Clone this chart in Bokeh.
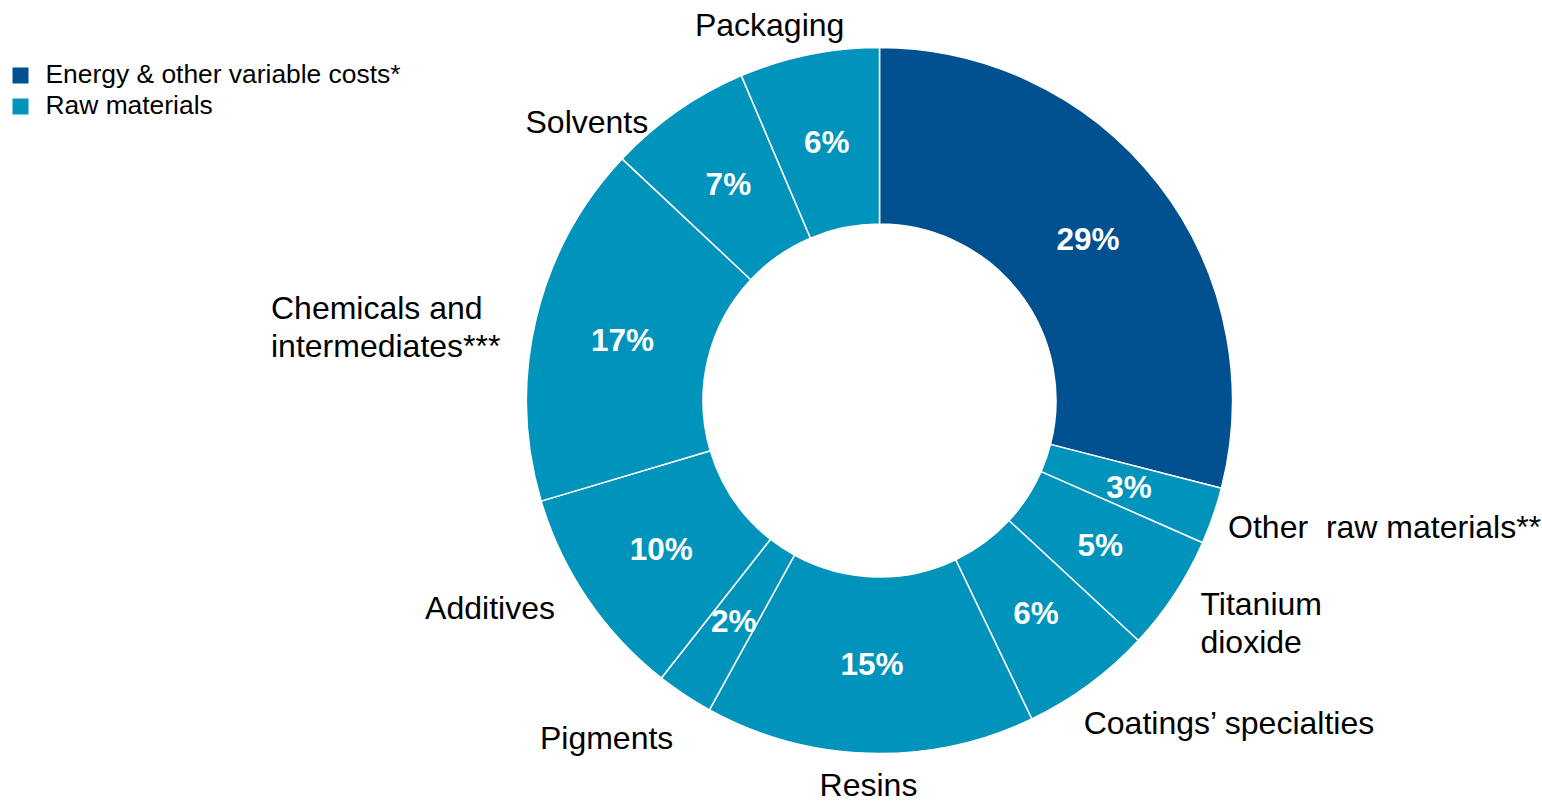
import math
from bokeh.plotting import figure
from bokeh.models import Range1d, ColumnDataSource, Legend, LegendItem
from bokeh.core.properties import value
from bokeh.embed import file_html
from bokeh.resources import INLINE

# ---- data ----
categories = ["Energy & other variable costs*", "Other\u00a0 raw materials**", "Titanium\ndioxide",
              "Coatings\u2019 specialties", "Resins", "Pigments", "Additives",
              "Chemicals and\nintermediates***", "Solvents", "Packaging"]
shares = [29.0, 2.6, 5.3, 6.0, 15.1, 2.6, 9.8, 16.6, 6.6, 6.4]
pct_labels = ["29%", "3%", "5%", "6%", "15%", "2%", "10%", "17%", "7%", "6%"]
groups = ["Energy & other variable costs*", "Raw materials", "Raw materials", "Raw materials",
          "Raw materials", "Raw materials", "Raw materials", "Raw materials",
          "Raw materials", "Raw materials"]
legend_labels = ["Energy & other variable costs*", "Raw materials"]

# ---- styles ----
group_colors = {"Energy & other variable costs*": "#01508f", "Raw materials": "#0093bb"}
R_OUT, R_IN = 353, 176.5
R_PCT, R_LAB = 264, 390
# per-label: (text_align, dx, dy) ; first slice has no outer label
lab_style = [None, ("left", -20, 1), ("left", -5, -8), ("left", -27, -8), ("center", 0, 5),
             ("right", 9, -12), ("right", -2, 12), ("left", -229, -16), ("right", -8, -41),
             ("center", -32, -7)]

total = sum(shares)
starts, ends, mids = [], [], []
cum = 0.0
for v in shares:
    a0 = cum / total
    cum += v
    a1 = cum / total
    starts.append(math.pi / 2 - 2 * math.pi * a0)
    ends.append(math.pi / 2 - 2 * math.pi * a1)
    mids.append(2 * math.pi * (a0 + a1) / 2)  # clockwise from top

colors = [group_colors[g] for g in groups]

W, H = 1542, 805
p = figure(width=W, height=H, output_backend="svg", toolbar_location=None,
           x_range=Range1d(-879, W - 879), y_range=Range1d(-(H - 400), 400), min_border=0)
p.axis.visible = False
p.grid.visible = False
p.outline_line_color = None
p.background_fill_color = "white"

src = ColumnDataSource(dict(start=starts, end=ends, color=colors))
p.annular_wedge(x=0, y=0, inner_radius=R_IN, outer_radius=R_OUT, start_angle="start",
                end_angle="end", direction="clock", fill_color="color",
                line_color="white", line_width=1.5, source=src)

# percentage labels
px = [R_PCT * math.sin(m) for m in mids]
py = [R_PCT * math.cos(m) for m in mids]
p.text(x=px, y=py, text=pct_labels, text_align="center", text_baseline="middle",
       text_color="white", text_font=value("Liberation Sans"), text_font_style="bold",
       text_font_size="31.5px")

# category labels
for i, cat in enumerate(categories):
    st = lab_style[i]
    if st is None:
        continue
    align, dx, dy = st
    lx = R_LAB * math.sin(mids[i]) + dx
    ly = R_LAB * math.cos(mids[i]) + dy
    p.text(x=[lx], y=[ly], text=[cat], text_align=align, text_baseline="middle",
           text_color="black", text_font=value("Liberation Sans"), text_font_size="32px",
           text_line_height=1.06)

# legend (dummy renderers placed far outside the visible range)
items = []
for lab in legend_labels:
    r = p.rect(x=[100000], y=[100000], width=1, height=1, fill_color=group_colors[lab],
               line_color=None)
    items.append(LegendItem(label=lab, renderers=[r]))
legend = Legend(items=items, location=(9.5, H - 61 - 60), glyph_width=20, glyph_height=20,
                label_height=30, spacing=0, label_standoff=16, padding=0, margin=0,
                label_text_font="Liberation Sans", label_text_font_size="26.4px",
                label_text_color="black", border_line_color=None,
                background_fill_alpha=0)
p.add_layout(legend)

open("out.html", "w").write(file_html(p, INLINE))
